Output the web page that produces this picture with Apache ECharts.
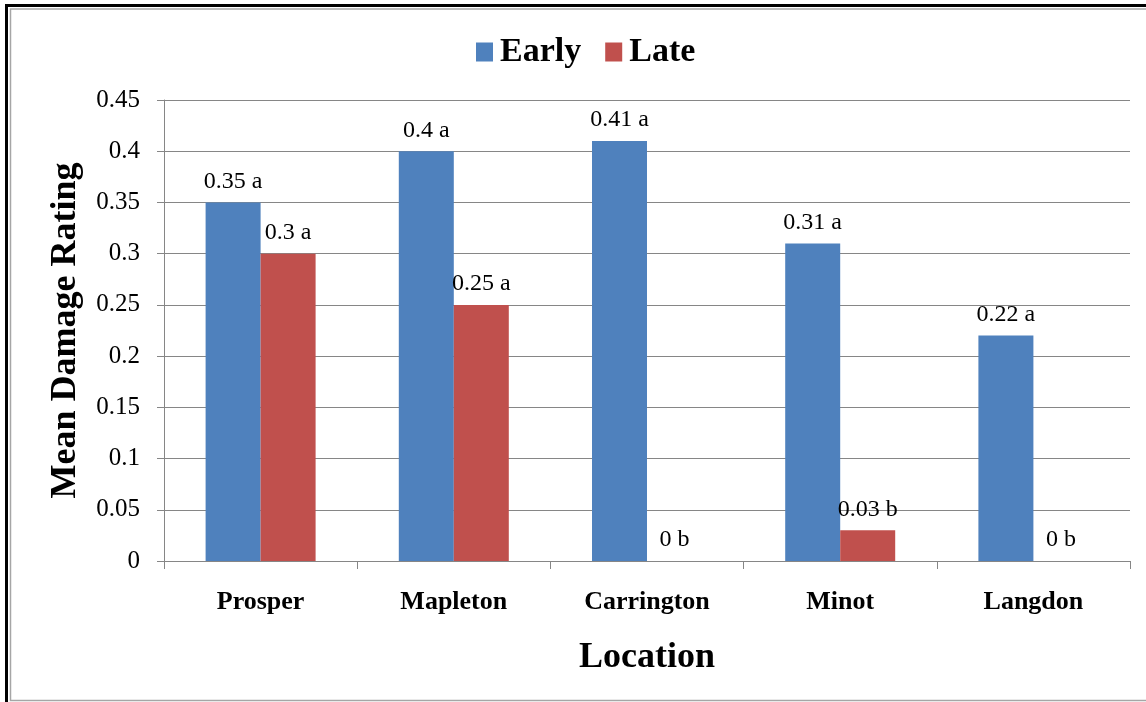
<!DOCTYPE html>
<html>
<head>
<meta charset="utf-8">
<script src="https://cdn.jsdelivr.net/npm/echarts@6/dist/echarts.min.js"></script>
<style>
html,body{margin:0;padding:0;background:#fff;}
#chart{width:1146px;height:702px;}
</style>
</head>
<body>
<div id="chart"></div>
<script>
const categories = ['Prosper', 'Mapleton', 'Carrington', 'Minot', 'Langdon'];
const earlyValues = [0.35, 0.4, 0.41, 0.31, 0.22];
const lateValues = [0.3, 0.25, 0, 0.03, 0];
const earlyLetters = ['a', 'a', 'a', 'a', 'a'];
const lateLetters = ['a', 'a', 'b', 'b', 'b'];
const yTicks = { min: 0, max: 0.45, interval: 0.05 };

const FONT = '"Liberation Serif", "Times New Roman", serif';
const chart = echarts.init(document.getElementById('chart'));

function labelFor(letters) {
  return function (p) { return String(p.value) + ' ' + letters[p.dataIndex]; };
}

chart.setOption({
  animation: false,
  backgroundColor: '#fff',
  graphic: [
    { type: 'line', shape: { x1: 6.5, y1: 5.5, x2: 1146, y2: 5.5 }, style: { stroke: '#000', lineWidth: 3 } },
    { type: 'line', shape: { x1: 6.5, y1: 4, x2: 6.5, y2: 702 }, style: { stroke: '#000', lineWidth: 3 } },
    { type: 'polyline', shape: { points: [[1146, 9], [10.5, 9], [10.5, 700.5], [1146, 700.5]] }, style: { stroke: '#a6a6a6', lineWidth: 1.5, fill: null } }
  ],
  legend: {
    left: 471,
    top: 30,
    itemWidth: 17,
    itemHeight: 19,
    itemGap: 24,
    icon: 'rect',
    textStyle: { fontFamily: FONT, fontSize: 34, fontWeight: 'bold', color: '#000', padding: [0, 0, 0, 2] },
    data: ['Early', 'Late']
  },
  grid: { left: 164, right: 16, top: 100, bottom: 141, containLabel: false },
  xAxis: {
    type: 'category',
    data: categories,
    name: 'Location',
    nameLocation: 'middle',
    nameGap: 79,
    nameTextStyle: { fontFamily: FONT, fontSize: 36, fontWeight: 'bold', color: '#000' },
    axisLine: { lineStyle: { color: '#868686', width: 1 } },
    axisTick: { show: true, length: 8, lineStyle: { color: '#868686' } },
    axisLabel: { fontFamily: FONT, fontSize: 26, fontWeight: 'bold', color: '#000', margin: 28 }
  },
  yAxis: {
    type: 'value',
    min: yTicks.min,
    max: yTicks.max,
    interval: yTicks.interval,
    name: 'Mean Damage Rating',
    nameLocation: 'middle',
    nameGap: 80,
    nameTextStyle: { fontFamily: FONT, fontSize: 36, fontWeight: 'bold', color: '#000' },
    axisLine: { show: true, lineStyle: { color: '#868686', width: 1 } },
    axisTick: { show: true, length: 7, lineStyle: { color: '#868686' } },
    splitLine: { show: true, lineStyle: { color: '#868686', width: 1 } },
    axisLabel: { fontFamily: FONT, fontSize: 25, color: '#000', margin: 24,
      formatter: function (v) { return String(Math.round(v * 100) / 100); } }
  },
  series: [
    {
      name: 'Early', type: 'bar', data: earlyValues, barWidth: 55, barGap: '0%',
      itemStyle: { color: '#4F81BD' },
      label: { show: true, position: 'top', distance: 9, fontFamily: FONT, fontSize: 24, color: '#000', formatter: labelFor(earlyLetters) }
    },
    {
      name: 'Late', type: 'bar', data: lateValues, barWidth: 55, barGap: '0%',
      itemStyle: { color: '#C0504D' },
      label: { show: true, position: 'top', distance: 9, fontFamily: FONT, fontSize: 24, color: '#000', formatter: labelFor(lateLetters) }
    }
  ]
});
</script>
</body>
</html>
